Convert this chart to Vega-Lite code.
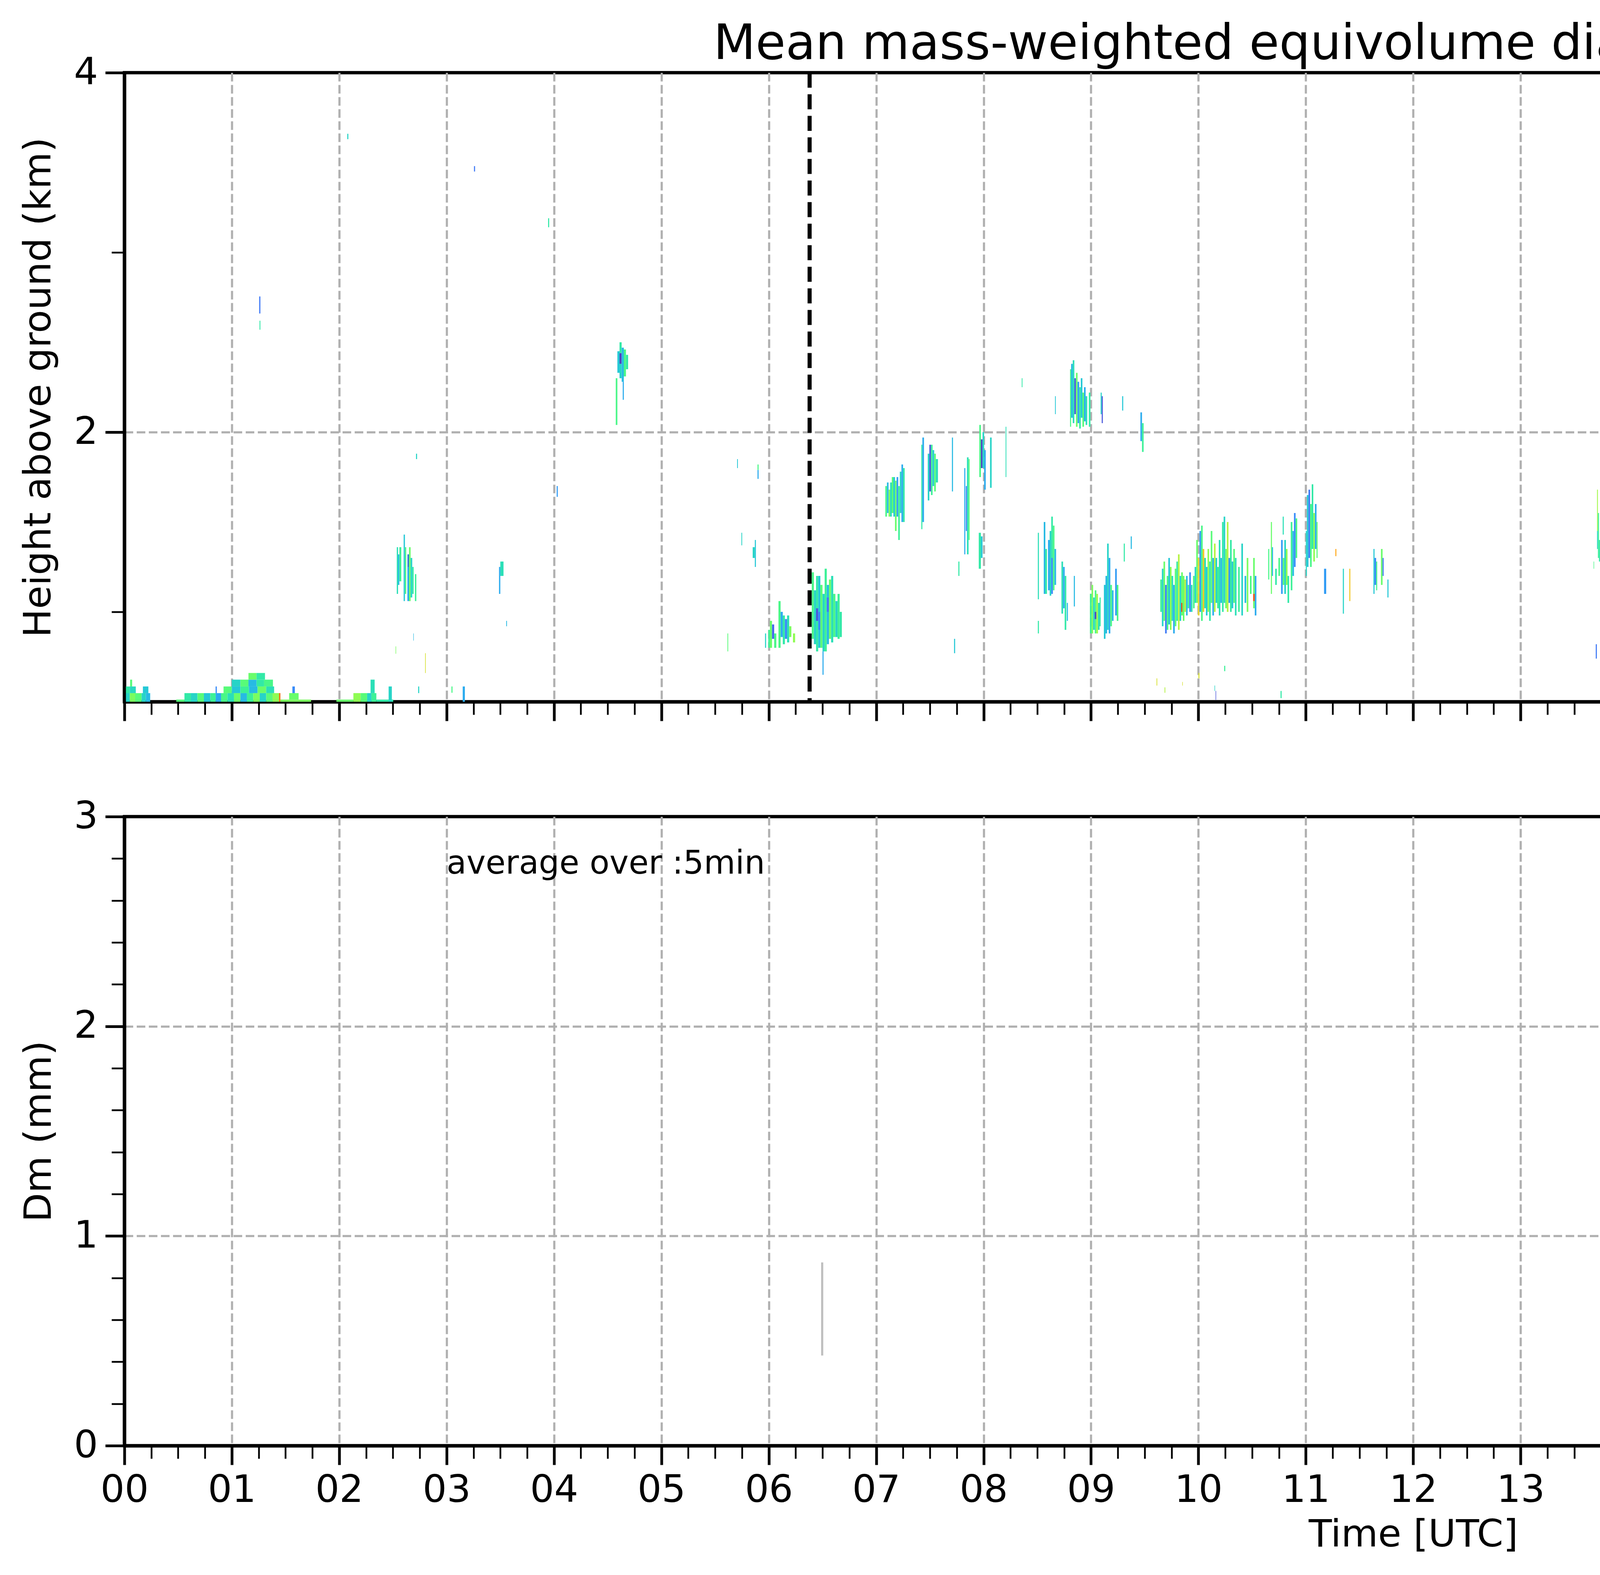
{
  "$schema": "https://vega.github.io/schema/vega-lite/v6.json",
  "autosize": {"type": "none"},
  "padding": {"left": 318.5, "top": 186, "right": 7123.5, "bottom": 3845},
  "background": "white",
  "config": {
    "font": "DejaVu Sans",
    "view": {"stroke": "black", "strokeWidth": 8.5},
    "axis": {
      "gridColor": "#b0b0b0", "gridDash": [22, 9], "gridWidth": 5.5,
      "tickColor": "black", "domain": false, "grid": false, "labelFlush": false, "labelOverlap": false,
      "labelFont": "DejaVu Sans", "labelFontSize": 97, "labelColor": "black",
      "titleFont": "DejaVu Sans", "titleFontSize": 97, "titleFontWeight": "normal", "titleColor": "black",
      "zindex": 1
    }
  },
  "bounds": "flush",
  "spacing": 294,
  "resolve": {"scale": {"color": "independent", "x": "independent", "y": "independent"}, "legend": {"color": "independent"}},
  "vconcat": [
    {
      "width": 6598.5,
      "height": 1610,
      "title": {"text": "Mean mass-weighted equivolume diameter on 20260213", "fontSize": 125, "font": "DejaVu Sans", "fontWeight": "normal", "anchor": "middle", "frame": "group", "offset": 36, "dy": 175, "baseline": "alphabetic", "color": "black"},
      "layer": [
        {
          "data": {"values": [
            {"t":0.014,"t2":0.05,"h":0.5,"h2":0.548,"d":0.6},
            {"t":0.05,"t2":0.10,"h":0.5,"h2":0.548,"d":0.95},
            {"t":0.10,"t2":0.16,"h":0.5,"h2":0.548,"d":0.85},
            {"t":0.16,"t2":0.20,"h":0.5,"h2":0.548,"d":0.6},
            {"t":0.20,"t2":0.24,"h":0.5,"h2":0.548,"d":0.5},
            {"t":0.014,"t2":0.05,"h":0.548,"h2":0.585,"d":0.7},
            {"t":0.05,"t2":0.106,"h":0.548,"h2":0.585,"d":0.62},
            {"t":0.053,"t2":0.072,"h":0.585,"h2":0.623,"d":0.85},
            {"t":0.172,"t2":0.223,"h":0.548,"h2":0.585,"d":0.55},
            {"t":0.483,"t2":0.559,"h":0.5,"h2":0.512,"d":0.85},
            {"t":0.559,"t2":0.62,"h":0.5,"h2":0.548,"d":0.7},
            {"t":0.62,"t2":0.68,"h":0.5,"h2":0.548,"d":0.6},
            {"t":0.68,"t2":0.74,"h":0.5,"h2":0.548,"d":0.85},
            {"t":0.74,"t2":0.80,"h":0.5,"h2":0.548,"d":0.55},
            {"t":0.80,"t2":0.85,"h":0.5,"h2":0.548,"d":0.75},
            {"t":0.85,"t2":0.90,"h":0.5,"h2":0.548,"d":0.45},
            {"t":0.90,"t2":0.96,"h":0.5,"h2":0.548,"d":0.8},
            {"t":0.96,"t2":1.02,"h":0.5,"h2":0.548,"d":0.65},
            {"t":1.02,"t2":1.08,"h":0.5,"h2":0.548,"d":0.9},
            {"t":1.08,"t2":1.14,"h":0.5,"h2":0.548,"d":0.5},
            {"t":1.14,"t2":1.20,"h":0.5,"h2":0.548,"d":0.75},
            {"t":1.20,"t2":1.26,"h":0.5,"h2":0.548,"d":0.95},
            {"t":1.26,"t2":1.32,"h":0.5,"h2":0.548,"d":0.6},
            {"t":1.32,"t2":1.38,"h":0.5,"h2":0.548,"d":0.85},
            {"t":1.38,"t2":1.452,"h":0.5,"h2":0.548,"d":1.0},
            {"t":1.44,"t2":1.452,"h":0.5,"h2":0.548,"d":1.6},
            {"t":1.452,"t2":1.738,"h":0.5,"h2":0.512,"d":0.95},
            {"t":1.534,"t2":1.622,"h":0.512,"h2":0.548,"d":0.9},
            {"t":1.564,"t2":1.587,"h":0.548,"h2":0.585,"d":0.35},
            {"t":0.849,"t2":0.86,"h":0.548,"h2":0.585,"d":0.35},
            {"t":0.923,"t2":1.0,"h":0.548,"h2":0.585,"d":0.85},
            {"t":1.0,"t2":1.08,"h":0.548,"h2":0.585,"d":0.55},
            {"t":1.08,"t2":1.16,"h":0.548,"h2":0.585,"d":0.75},
            {"t":1.16,"t2":1.24,"h":0.548,"h2":0.585,"d":0.5},
            {"t":1.24,"t2":1.32,"h":0.548,"h2":0.585,"d":0.9},
            {"t":1.32,"t2":1.394,"h":0.548,"h2":0.585,"d":0.65},
            {"t":1.0,"t2":1.08,"h":0.585,"h2":0.623,"d":0.6},
            {"t":1.08,"t2":1.155,"h":0.585,"h2":0.623,"d":0.85},
            {"t":1.155,"t2":1.23,"h":0.585,"h2":0.623,"d":0.5},
            {"t":1.23,"t2":1.30,"h":0.585,"h2":0.623,"d":0.7},
            {"t":1.30,"t2":1.383,"h":0.585,"h2":0.623,"d":0.8},
            {"t":1.155,"t2":1.23,"h":0.623,"h2":0.66,"d":0.9},
            {"t":1.23,"t2":1.309,"h":0.623,"h2":0.66,"d":0.7},
            {"t":1.974,"t2":2.132,"h":0.5,"h2":0.512,"d":0.9},
            {"t":2.132,"t2":2.20,"h":0.5,"h2":0.548,"d":1.0},
            {"t":2.20,"t2":2.26,"h":0.5,"h2":0.548,"d":0.85},
            {"t":2.26,"t2":2.30,"h":0.5,"h2":0.548,"d":0.6},
            {"t":2.30,"t2":2.346,"h":0.5,"h2":0.548,"d":0.75},
            {"t":2.346,"t2":2.503,"h":0.5,"h2":0.512,"d":0.7},
            {"t":2.292,"t2":2.33,"h":0.548,"h2":0.623,"d":0.65},
            {"t":2.46,"t2":2.49,"h":0.5,"h2":0.585,"d":0.6},
            {"t":2.735,"t2":2.745,"h":0.548,"h2":0.585,"d":0.6},
            {"t":3.045,"t2":3.055,"h":0.55,"h2":0.585,"d":0.8},
            {"t":3.15,"t2":3.17,"h":0.5,"h2":0.585,"d":0.45},
            {"t":1.255,"t2":1.266,"h":2.66,"h2":2.755,"d":0.3},
            {"t":1.258,"t2":1.266,"h":2.57,"h2":2.62,"d":0.7},
            {"t":2.075,"t2":2.085,"h":3.63,"h2":3.66,"d":0.6},
            {"t":2.536,"t2":2.548,"h":1.10,"h2":1.36,"d":0.65},
            {"t":2.548,"t2":2.56,"h":1.15,"h2":1.32,"d":0.5},
            {"t":2.56,"t2":2.578,"h":1.17,"h2":1.36,"d":0.75},
            {"t":2.60,"t2":2.612,"h":1.06,"h2":1.43,"d":0.55},
            {"t":2.612,"t2":2.624,"h":1.10,"h2":1.36,"d":0.8},
            {"t":2.635,"t2":2.65,"h":1.06,"h2":1.32,"d":0.45},
            {"t":2.64,"t2":2.646,"h":1.25,"h2":1.32,"d":0.15},
            {"t":2.65,"t2":2.665,"h":1.06,"h2":1.36,"d":0.9},
            {"t":2.665,"t2":2.68,"h":1.08,"h2":1.30,"d":0.6},
            {"t":2.68,"t2":2.693,"h":1.10,"h2":1.25,"d":0.7},
            {"t":2.705,"t2":2.718,"h":1.06,"h2":1.21,"d":0.75},
            {"t":2.525,"t2":2.53,"h":0.767,"h2":0.808,"d":0.95},
            {"t":2.80,"t2":2.806,"h":0.66,"h2":0.77,"d":1.2},
            {"t":2.69,"t2":2.694,"h":0.84,"h2":0.88,"d":0.5},
            {"t":3.555,"t2":3.562,"h":0.92,"h2":0.95,"d":0.5},
            {"t":2.715,"t2":2.725,"h":1.85,"h2":1.88,"d":0.6},
            {"t":3.488,"t2":3.50,"h":1.10,"h2":1.25,"d":0.45},
            {"t":3.50,"t2":3.53,"h":1.20,"h2":1.28,"d":0.65},
            {"t":3.255,"t2":3.265,"h":3.45,"h2":3.48,"d":0.3},
            {"t":3.945,"t2":3.955,"h":3.14,"h2":3.19,"d":0.7},
            {"t":4.025,"t2":4.035,"h":1.64,"h2":1.70,"d":0.4},
            {"t":4.575,"t2":4.59,"h":2.04,"h2":2.30,"d":0.8},
            {"t":4.59,"t2":4.61,"h":2.33,"h2":2.45,"d":0.55},
            {"t":4.61,"t2":4.63,"h":2.30,"h2":2.38,"d":0.6},
            {"t":4.61,"t2":4.63,"h":2.38,"h2":2.44,"d":0.15},
            {"t":4.61,"t2":4.63,"h":2.44,"h2":2.50,"d":0.7},
            {"t":4.63,"t2":4.65,"h":2.28,"h2":2.47,"d":0.5},
            {"t":4.65,"t2":4.67,"h":2.31,"h2":2.46,"d":0.8},
            {"t":4.67,"t2":4.69,"h":2.35,"h2":2.43,"d":0.7},
            {"t":4.64,"t2":4.65,"h":2.18,"h2":2.28,"d":0.45},
            {"t":5.705,"t2":5.712,"h":1.80,"h2":1.85,"d":0.55},
            {"t":5.895,"t2":5.905,"h":1.74,"h2":1.79,"d":0.45},
            {"t":5.895,"t2":5.905,"h":1.79,"h2":1.82,"d":0.8},
            {"t":5.745,"t2":5.752,"h":1.37,"h2":1.44,"d":0.6},
            {"t":5.85,"t2":5.87,"h":1.30,"h2":1.36,"d":0.6},
            {"t":5.87,"t2":5.88,"h":1.25,"h2":1.40,"d":0.55},
            {"t":5.615,"t2":5.622,"h":0.78,"h2":0.88,"d":0.85},
            {"t":5.965,"t2":5.975,"h":0.80,"h2":0.88,"d":0.6},
            {"t":5.995,"t2":6.01,"h":0.80,"h2":0.90,"d":0.75},
            {"t":6.01,"t2":6.03,"h":0.80,"h2":0.95,"d":0.9},
            {"t":6.03,"t2":6.05,"h":0.85,"h2":0.93,"d":0.25},
            {"t":6.05,"t2":6.07,"h":0.80,"h2":0.88,"d":0.8},
            {"t":6.09,"t2":6.11,"h":0.80,"h2":1.06,"d":0.8},
            {"t":6.11,"t2":6.13,"h":0.86,"h2":1.00,"d":0.45},
            {"t":6.13,"t2":6.15,"h":0.82,"h2":0.98,"d":0.7},
            {"t":6.15,"t2":6.17,"h":0.85,"h2":0.96,"d":0.35},
            {"t":6.17,"t2":6.19,"h":0.83,"h2":0.98,"d":0.65},
            {"t":6.19,"t2":6.21,"h":0.86,"h2":0.92,"d":0.95},
            {"t":6.225,"t2":6.245,"h":0.83,"h2":0.88,"d":1.0},
            {"t":6.40,"t2":6.42,"h":0.85,"h2":1.22,"d":0.8},
            {"t":6.42,"t2":6.44,"h":0.82,"h2":1.12,"d":0.6},
            {"t":6.44,"t2":6.46,"h":0.78,"h2":1.20,"d":0.7},
            {"t":6.44,"t2":6.46,"h":0.95,"h2":1.02,"d":0.2},
            {"t":6.46,"t2":6.48,"h":0.80,"h2":1.20,"d":0.55},
            {"t":6.46,"t2":6.48,"h":0.90,"h2":1.00,"d":0.35},
            {"t":6.48,"t2":6.50,"h":0.80,"h2":1.15,"d":0.85},
            {"t":6.50,"t2":6.52,"h":0.78,"h2":1.10,"d":0.6},
            {"t":6.50,"t2":6.51,"h":0.65,"h2":0.78,"d":0.45},
            {"t":6.52,"t2":6.54,"h":0.78,"h2":1.24,"d":0.75},
            {"t":6.54,"t2":6.56,"h":0.82,"h2":1.15,"d":0.5},
            {"t":6.54,"t2":6.56,"h":1.00,"h2":1.08,"d":0.3},
            {"t":6.56,"t2":6.58,"h":0.85,"h2":1.18,"d":0.9},
            {"t":6.58,"t2":6.60,"h":0.83,"h2":1.20,"d":0.65},
            {"t":6.60,"t2":6.62,"h":0.86,"h2":1.10,"d":0.8},
            {"t":6.62,"t2":6.64,"h":0.86,"h2":1.06,"d":0.6},
            {"t":6.64,"t2":6.66,"h":0.85,"h2":1.10,"d":0.75},
            {"t":6.66,"t2":6.68,"h":0.86,"h2":1.00,"d":0.7},
            {"t":7.725,"t2":7.735,"h":0.77,"h2":0.85,"d":0.55},
            {"t":7.085,"t2":7.10,"h":1.53,"h2":1.70,"d":0.8},
            {"t":7.10,"t2":7.115,"h":1.55,"h2":1.72,"d":0.5},
            {"t":7.115,"t2":7.13,"h":1.53,"h2":1.68,"d":0.95},
            {"t":7.13,"t2":7.145,"h":1.53,"h2":1.72,"d":0.65},
            {"t":7.145,"t2":7.16,"h":1.55,"h2":1.75,"d":0.85},
            {"t":7.16,"t2":7.175,"h":1.53,"h2":1.75,"d":0.55},
            {"t":7.175,"t2":7.19,"h":1.45,"h2":1.73,"d":0.9},
            {"t":7.19,"t2":7.205,"h":1.53,"h2":1.75,"d":0.4},
            {"t":7.205,"t2":7.22,"h":1.40,"h2":1.70,"d":0.75},
            {"t":7.22,"t2":7.235,"h":1.55,"h2":1.78,"d":0.6},
            {"t":7.235,"t2":7.25,"h":1.50,"h2":1.82,"d":0.45},
            {"t":7.25,"t2":7.265,"h":1.50,"h2":1.80,"d":0.7},
            {"t":7.42,"t2":7.43,"h":1.46,"h2":1.93,"d":0.7},
            {"t":7.43,"t2":7.445,"h":1.50,"h2":1.97,"d":0.45},
            {"t":7.48,"t2":7.495,"h":1.62,"h2":1.88,"d":0.6},
            {"t":7.495,"t2":7.51,"h":1.67,"h2":1.93,"d":0.2},
            {"t":7.51,"t2":7.525,"h":1.65,"h2":1.93,"d":0.75},
            {"t":7.525,"t2":7.54,"h":1.70,"h2":1.90,"d":0.55},
            {"t":7.54,"t2":7.555,"h":1.67,"h2":1.88,"d":0.85},
            {"t":7.555,"t2":7.575,"h":1.72,"h2":1.85,"d":0.65},
            {"t":7.705,"t2":7.715,"h":1.67,"h2":1.97,"d":0.5},
            {"t":7.82,"t2":7.83,"h":1.32,"h2":1.80,"d":0.45},
            {"t":7.835,"t2":7.845,"h":1.45,"h2":1.70,"d":0.3},
            {"t":7.845,"t2":7.86,"h":1.32,"h2":1.86,"d":0.65},
            {"t":7.86,"t2":7.87,"h":1.40,"h2":1.85,"d":0.85},
            {"t":7.765,"t2":7.775,"h":1.20,"h2":1.28,"d":0.7},
            {"t":7.96,"t2":7.975,"h":1.75,"h2":2.04,"d":0.8},
            {"t":7.975,"t2":7.99,"h":1.80,"h2":1.96,"d":0.15},
            {"t":7.99,"t2":8.005,"h":1.80,"h2":2.0,"d":0.6},
            {"t":8.005,"t2":8.02,"h":1.68,"h2":1.90,"d":0.45},
            {"t":7.955,"t2":7.975,"h":1.24,"h2":1.44,"d":0.7},
            {"t":7.975,"t2":7.99,"h":1.30,"h2":1.42,"d":0.55},
            {"t":8.06,"t2":8.075,"h":1.69,"h2":1.97,"d":0.6},
            {"t":8.205,"t2":8.212,"h":1.75,"h2":2.03,"d":0.65},
            {"t":8.505,"t2":8.515,"h":1.07,"h2":1.44,"d":0.65},
            {"t":8.505,"t2":8.515,"h":0.88,"h2":0.95,"d":0.7},
            {"t":8.56,"t2":8.575,"h":1.10,"h2":1.50,"d":0.5},
            {"t":8.575,"t2":8.59,"h":1.10,"h2":1.35,"d":0.7},
            {"t":8.60,"t2":8.615,"h":1.12,"h2":1.40,"d":0.45},
            {"t":8.615,"t2":8.63,"h":1.09,"h2":1.45,"d":0.6},
            {"t":8.63,"t2":8.645,"h":1.30,"h2":1.53,"d":0.7},
            {"t":8.63,"t2":8.645,"h":1.10,"h2":1.30,"d":0.35},
            {"t":8.645,"t2":8.66,"h":1.12,"h2":1.48,"d":0.8},
            {"t":8.66,"t2":8.675,"h":1.15,"h2":1.35,"d":0.5},
            {"t":8.725,"t2":8.74,"h":0.99,"h2":1.28,"d":0.65},
            {"t":8.74,"t2":8.755,"h":1.02,"h2":1.25,"d":0.45},
            {"t":8.755,"t2":8.77,"h":0.90,"h2":1.20,"d":0.7},
            {"t":8.775,"t2":8.785,"h":0.95,"h2":1.05,"d":0.5},
            {"t":8.84,"t2":8.85,"h":1.03,"h2":1.20,"d":0.5},
            {"t":8.805,"t2":8.815,"h":2.03,"h2":2.35,"d":0.8},
            {"t":8.815,"t2":8.83,"h":2.08,"h2":2.38,"d":0.5},
            {"t":8.83,"t2":8.845,"h":2.05,"h2":2.40,"d":0.65},
            {"t":8.845,"t2":8.86,"h":2.10,"h2":2.30,"d":0.2},
            {"t":8.86,"t2":8.875,"h":2.03,"h2":2.33,"d":0.9},
            {"t":8.875,"t2":8.89,"h":2.05,"h2":2.28,"d":0.4},
            {"t":8.89,"t2":8.905,"h":2.02,"h2":2.25,"d":0.7},
            {"t":8.905,"t2":8.92,"h":2.08,"h2":2.30,"d":0.55},
            {"t":8.92,"t2":8.935,"h":2.03,"h2":2.22,"d":0.85},
            {"t":8.935,"t2":8.95,"h":2.06,"h2":2.25,"d":0.45},
            {"t":8.95,"t2":8.965,"h":2.04,"h2":2.20,"d":0.65},
            {"t":8.98,"t2":8.995,"h":2.03,"h2":2.22,"d":0.7},
            {"t":9.09,"t2":9.10,"h":2.10,"h2":2.22,"d":0.6},
            {"t":9.10,"t2":9.11,"h":2.05,"h2":2.20,"d":0.2},
            {"t":9.29,"t2":9.30,"h":2.12,"h2":2.20,"d":0.55},
            {"t":9.46,"t2":9.475,"h":1.95,"h2":2.11,"d":0.45},
            {"t":9.475,"t2":9.49,"h":1.89,"h2":2.05,"d":0.75},
            {"t":8.665,"t2":8.672,"h":2.10,"h2":2.20,"d":0.55},
            {"t":8.355,"t2":8.362,"h":2.25,"h2":2.30,"d":0.7},
            {"t":8.99,"t2":9.005,"h":0.88,"h2":1.10,"d":0.75},
            {"t":9.005,"t2":9.02,"h":0.88,"h2":1.15,"d":0.95},
            {"t":9.02,"t2":9.035,"h":0.90,"h2":1.08,"d":0.6},
            {"t":9.035,"t2":9.05,"h":0.88,"h2":1.12,"d":0.8},
            {"t":9.035,"t2":9.05,"h":0.96,"h2":1.00,"d":0.15},
            {"t":9.05,"t2":9.065,"h":0.88,"h2":1.10,"d":1.05},
            {"t":9.065,"t2":9.08,"h":0.90,"h2":1.05,"d":0.65},
            {"t":9.08,"t2":9.09,"h":0.92,"h2":1.08,"d":0.7},
            {"t":9.12,"t2":9.135,"h":0.85,"h2":1.15,"d":0.55},
            {"t":9.135,"t2":9.15,"h":0.88,"h2":1.20,"d":0.5},
            {"t":9.15,"t2":9.165,"h":0.90,"h2":1.38,"d":0.6},
            {"t":9.165,"t2":9.18,"h":0.88,"h2":1.30,"d":0.45},
            {"t":9.18,"t2":9.195,"h":0.92,"h2":1.15,"d":0.8},
            {"t":9.195,"t2":9.21,"h":0.95,"h2":1.12,"d":0.5},
            {"t":9.225,"t2":9.24,"h":0.98,"h2":1.24,"d":0.4},
            {"t":9.24,"t2":9.255,"h":0.95,"h2":1.15,"d":0.8},
            {"t":9.37,"t2":9.38,"h":1.35,"h2":1.42,"d":0.5},
            {"t":9.305,"t2":9.315,"h":1.28,"h2":1.38,"d":0.7},
            {"t":9.645,"t2":9.66,"h":1.00,"h2":1.18,"d":0.75},
            {"t":9.66,"t2":9.675,"h":0.92,"h2":1.24,"d":0.6},
            {"t":9.675,"t2":9.69,"h":0.95,"h2":1.28,"d":0.9},
            {"t":9.69,"t2":9.705,"h":0.88,"h2":1.15,"d":0.3},
            {"t":9.705,"t2":9.72,"h":0.90,"h2":1.20,"d":0.8},
            {"t":9.72,"t2":9.735,"h":0.93,"h2":1.30,"d":0.55},
            {"t":9.735,"t2":9.75,"h":0.90,"h2":1.25,"d":1.0},
            {"t":9.75,"t2":9.765,"h":0.95,"h2":1.20,"d":0.65},
            {"t":9.765,"t2":9.78,"h":0.88,"h2":1.15,"d":0.45},
            {"t":9.78,"t2":9.795,"h":0.92,"h2":1.24,"d":0.85},
            {"t":9.795,"t2":9.81,"h":0.95,"h2":1.28,"d":0.7},
            {"t":9.81,"t2":9.825,"h":0.90,"h2":1.32,"d":1.1},
            {"t":9.825,"t2":9.84,"h":0.95,"h2":1.20,"d":0.6},
            {"t":9.84,"t2":9.855,"h":0.98,"h2":1.22,"d":0.9},
            {"t":9.84,"t2":9.85,"h":1.00,"h2":1.05,"d":1.7},
            {"t":9.855,"t2":9.87,"h":0.95,"h2":1.20,"d":0.9},
            {"t":9.87,"t2":9.885,"h":1.00,"h2":1.18,"d":1.1},
            {"t":9.885,"t2":9.90,"h":0.98,"h2":1.20,"d":0.5},
            {"t":9.90,"t2":9.915,"h":1.02,"h2":1.15,"d":0.75},
            {"t":9.915,"t2":9.93,"h":1.00,"h2":1.22,"d":0.35},
            {"t":9.93,"t2":9.945,"h":1.00,"h2":1.15,"d":0.65},
            {"t":9.95,"t2":9.965,"h":1.02,"h2":1.20,"d":0.8},
            {"t":9.965,"t2":9.98,"h":1.05,"h2":1.25,"d":0.6},
            {"t":9.98,"t2":9.995,"h":1.05,"h2":1.40,"d":0.9},
            {"t":9.995,"t2":10.01,"h":0.98,"h2":1.30,"d":1.25},
            {"t":10.01,"t2":10.025,"h":1.00,"h2":1.45,"d":0.4},
            {"t":10.025,"t2":10.04,"h":0.95,"h2":1.48,"d":0.8},
            {"t":10.04,"t2":10.055,"h":1.00,"h2":1.35,"d":1.3},
            {"t":10.055,"t2":10.07,"h":1.02,"h2":1.30,"d":0.65},
            {"t":10.07,"t2":10.085,"h":0.98,"h2":1.25,"d":0.55},
            {"t":10.085,"t2":10.10,"h":1.00,"h2":1.35,"d":1.0},
            {"t":10.10,"t2":10.115,"h":0.95,"h2":1.28,"d":0.7},
            {"t":10.115,"t2":10.13,"h":1.05,"h2":1.45,"d":0.85},
            {"t":10.13,"t2":10.145,"h":0.98,"h2":1.30,"d":0.45},
            {"t":10.145,"t2":10.16,"h":1.00,"h2":1.38,"d":1.1},
            {"t":10.16,"t2":10.175,"h":1.05,"h2":1.30,"d":0.6},
            {"t":10.175,"t2":10.19,"h":1.02,"h2":1.25,"d":0.75},
            {"t":10.19,"t2":10.205,"h":0.98,"h2":1.40,"d":0.65},
            {"t":10.205,"t2":10.22,"h":1.05,"h2":1.30,"d":0.5},
            {"t":10.22,"t2":10.235,"h":1.00,"h2":1.50,"d":0.7},
            {"t":10.235,"t2":10.25,"h":1.05,"h2":1.53,"d":0.6},
            {"t":10.25,"t2":10.265,"h":1.02,"h2":1.35,"d":0.9},
            {"t":10.265,"t2":10.28,"h":1.00,"h2":1.50,"d":1.1},
            {"t":10.28,"t2":10.295,"h":1.05,"h2":1.30,"d":0.4},
            {"t":10.295,"t2":10.31,"h":1.00,"h2":1.40,"d":0.7},
            {"t":10.31,"t2":10.325,"h":1.02,"h2":1.28,"d":0.55},
            {"t":10.325,"t2":10.34,"h":1.05,"h2":1.35,"d":0.85},
            {"t":10.34,"t2":10.355,"h":0.98,"h2":1.30,"d":0.65},
            {"t":10.37,"t2":10.385,"h":1.00,"h2":1.25,"d":0.75},
            {"t":10.40,"t2":10.415,"h":0.98,"h2":1.38,"d":0.6},
            {"t":10.43,"t2":10.445,"h":1.05,"h2":1.20,"d":0.5},
            {"t":10.45,"t2":10.465,"h":1.00,"h2":1.30,"d":0.95},
            {"t":10.48,"t2":10.495,"h":1.10,"h2":1.20,"d":0.8},
            {"t":10.51,"t2":10.525,"h":1.02,"h2":1.30,"d":0.9},
            {"t":10.51,"t2":10.525,"h":1.06,"h2":1.10,"d":1.65},
            {"t":10.525,"t2":10.54,"h":0.98,"h2":1.20,"d":0.45},
            {"t":9.685,"t2":9.692,"h":0.55,"h2":0.58,"d":1.1},
            {"t":9.61,"t2":9.617,"h":0.59,"h2":0.63,"d":1.2},
            {"t":9.85,"t2":9.855,"h":0.59,"h2":0.61,"d":1.2},
            {"t":10.0,"t2":10.01,"h":0.63,"h2":0.66,"d":1.2},
            {"t":10.24,"t2":10.25,"h":0.67,"h2":0.70,"d":0.75},
            {"t":10.15,"t2":10.155,"h":0.56,"h2":0.59,"d":0.6},
            {"t":10.765,"t2":10.775,"h":0.52,"h2":0.56,"d":0.7},
            {"t":10.16,"t2":10.165,"h":0.51,"h2":0.56,"d":0.2},
            {"t":10.65,"t2":10.66,"h":1.18,"h2":1.35,"d":0.8},
            {"t":10.675,"t2":10.685,"h":1.10,"h2":1.50,"d":0.9},
            {"t":10.685,"t2":10.695,"h":1.20,"h2":1.36,"d":0.5},
            {"t":10.715,"t2":10.73,"h":1.15,"h2":1.24,"d":0.7},
            {"t":10.745,"t2":10.76,"h":1.20,"h2":1.30,"d":0.8},
            {"t":10.77,"t2":10.785,"h":1.10,"h2":1.40,"d":0.4},
            {"t":10.785,"t2":10.80,"h":1.15,"h2":1.30,"d":0.85},
            {"t":10.785,"t2":10.795,"h":1.43,"h2":1.53,"d":0.65},
            {"t":10.80,"t2":10.815,"h":1.10,"h2":1.40,"d":0.6},
            {"t":10.815,"t2":10.83,"h":1.15,"h2":1.35,"d":1.0},
            {"t":10.83,"t2":10.845,"h":1.05,"h2":1.20,"d":0.7},
            {"t":10.86,"t2":10.875,"h":1.12,"h2":1.50,"d":0.75},
            {"t":10.875,"t2":10.89,"h":1.20,"h2":1.45,"d":0.5},
            {"t":10.89,"t2":10.905,"h":1.25,"h2":1.55,"d":0.35},
            {"t":10.905,"t2":10.92,"h":1.30,"h2":1.52,"d":0.8},
            {"t":11.00,"t2":11.01,"h":1.20,"h2":1.45,"d":0.6},
            {"t":11.01,"t2":11.025,"h":1.25,"h2":1.65,"d":0.55},
            {"t":11.025,"t2":11.04,"h":1.30,"h2":1.68,"d":0.3},
            {"t":11.04,"t2":11.055,"h":1.25,"h2":1.60,"d":0.8},
            {"t":11.055,"t2":11.07,"h":1.35,"h2":1.71,"d":0.7},
            {"t":11.07,"t2":11.085,"h":1.28,"h2":1.55,"d":1.0},
            {"t":11.085,"t2":11.10,"h":1.35,"h2":1.60,"d":0.45},
            {"t":11.10,"t2":11.11,"h":1.30,"h2":1.50,"d":0.85},
            {"t":11.17,"t2":11.19,"h":1.10,"h2":1.24,"d":0.4},
            {"t":11.345,"t2":11.355,"h":0.99,"h2":1.24,"d":0.6},
            {"t":11.405,"t2":11.415,"h":1.06,"h2":1.24,"d":1.3},
            {"t":11.275,"t2":11.285,"h":1.31,"h2":1.35,"d":1.4},
            {"t":11.63,"t2":11.64,"h":1.10,"h2":1.35,"d":0.55},
            {"t":11.64,"t2":11.655,"h":1.15,"h2":1.30,"d":0.35},
            {"t":11.655,"t2":11.665,"h":1.12,"h2":1.28,"d":0.8},
            {"t":11.70,"t2":11.715,"h":1.15,"h2":1.35,"d":0.9},
            {"t":11.715,"t2":11.725,"h":1.20,"h2":1.30,"d":0.3},
            {"t":11.76,"t2":11.77,"h":1.08,"h2":1.18,"d":0.55},
            {"t":13.712,"t2":13.72,"h":1.45,"h2":1.68,"d":1.05},
            {"t":13.712,"t2":13.72,"h":1.35,"h2":1.45,"d":0.6},
            {"t":13.72,"t2":13.73,"h":1.30,"h2":1.55,"d":0.75},
            {"t":13.73,"t2":13.74,"h":1.28,"h2":1.40,"d":0.7},
            {"t":13.775,"t2":13.785,"h":1.40,"h2":1.50,"d":0.75},
            {"t":13.80,"t2":13.81,"h":1.32,"h2":1.54,"d":0.85},
            {"t":13.81,"t2":13.82,"h":1.35,"h2":1.48,"d":0.5},
            {"t":13.68,"t2":13.685,"h":1.24,"h2":1.28,"d":0.8},
            {"t":13.70,"t2":13.71,"h":0.74,"h2":0.82,"d":0.3},
            {"t":15.045,"t2":15.055,"h":0.51,"h2":0.67,"d":0.55},
            {"t":19.84,"t2":19.85,"h":2.87,"h2":3.01,"d":0.6},
            {"t":19.85,"t2":19.865,"h":2.90,"h2":3.05,"d":0.65},
            {"t":19.865,"t2":19.875,"h":2.90,"h2":2.98,"d":0.45},
            {"t":19.875,"t2":19.89,"h":2.93,"h2":2.98,"d":0.55},
            {"t":19.89,"t2":19.90,"h":2.93,"h2":3.01,"d":0.62},
            {"t":20.18,"t2":20.19,"h":2.87,"h2":2.94,"d":0.45},
            {"t":20.19,"t2":20.20,"h":2.87,"h2":2.98,"d":0.7},
            {"t":20.195,"t2":20.20,"h":2.87,"h2":2.94,"d":0.2},
            {"t":20.34,"t2":20.35,"h":2.83,"h2":3.12,"d":0.6},
            {"t":20.35,"t2":20.36,"h":2.87,"h2":3.16,"d":0.75},
            {"t":20.36,"t2":20.37,"h":2.87,"h2":3.12,"d":0.55},
            {"t":20.37,"t2":20.38,"h":2.83,"h2":3.16,"d":0.4},
            {"t":20.38,"t2":20.39,"h":2.87,"h2":3.19,"d":0.6},
            {"t":20.53,"t2":20.54,"h":2.87,"h2":3.19,"d":0.65},
            {"t":20.53,"t2":20.54,"h":2.79,"h2":2.87,"d":0.3},
            {"t":20.54,"t2":20.55,"h":2.83,"h2":3.19,"d":0.5},
            {"t":20.555,"t2":20.565,"h":2.83,"h2":3.16,"d":0.7},
            {"t":20.57,"t2":20.58,"h":2.87,"h2":3.19,"d":0.6},
            {"t":20.58,"t2":20.59,"h":2.83,"h2":3.19,"d":0.65},
            {"t":20.68,"t2":20.69,"h":2.83,"h2":3.30,"d":0.7},
            {"t":20.68,"t2":20.69,"h":2.94,"h2":2.98,"d":0.2},
            {"t":20.68,"t2":20.69,"h":3.19,"h2":3.23,"d":0.2},
            {"t":20.69,"t2":20.70,"h":2.72,"h2":3.335,"d":0.58},
            {"t":21.236,"t2":21.24,"h":2.83,"h2":3.335,"d":0.65}
          ]},
          "mark": {"type": "rect", "strokeWidth": 0},
          "encoding": {
            "x": {"field": "t", "type": "quantitative", "scale": {"domain": [0, 24], "nice": false, "zero": false},
              "axis": {"orient": "bottom", "values": [0,1,2,3,4,5,6,7,8,9,10,11,12,13,14,15,16,17,18,19,20,21,22,23], "labels": false, "grid": true,
                "gridOpacity": {"condition": {"test": "datum.value == 0", "value": 0}, "value": 1},
                "tickSize": 49, "tickWidth": 7, "domain": true, "domainColor": "black", "domainWidth": 8.5, "title": null}},
            "x2": {"field": "t2"},
            "y": {"field": "h", "type": "quantitative", "scale": {"domain": [0.5, 4], "nice": false, "zero": false},
              "axis": {"orient": "left", "values": [2, 4], "format": "d", "grid": true,
                "gridOpacity": {"condition": {"test": "datum.value == 4", "value": 0}, "value": 1},
                "tickSize": 49, "tickWidth": 7, "labelPadding": 19, "domain": true, "domainColor": "black", "domainWidth": 8.5,
                "title": "Height above ground (km)", "titleX": -219, "titleY": 805, "titleAngle": 270, "titleAlign": "center", "titleBaseline": "middle"}},
            "y2": {"field": "h2"},
            "color": {"field": "d", "type": "quantitative", "scale": {"scheme": "turbo", "domain": [0, 2]},
              "legend": {"title": "Dm (mm)", "orient": "right", "direction": "vertical", "gradientLength": 1610, "gradientThickness": 114,
                "gradientStrokeColor": "black", "gradientStrokeWidth": 4.4, "values": [0, 0.4, 0.8, 1.2, 1.6, 2.0], "format": ".1f",
                "labelFont": "DejaVu Sans", "labelFontSize": 87, "labelColor": "black", "labelOffset": 43, "labelOverlap": false,
                "titleOrient": "right", "titleAngle": 270, "titleBaseline": "middle", "titleLimit": 3000, "titleFont": "DejaVu Sans", "titleFontSize": 83, "titleFontWeight": "normal", "titleColor": "black", "titlePadding": 60, "titleAnchor": "middle",
                "offset": 71, "padding": 0,
                "encode": {
                  "labels": {"update": {"baseline": {"value": "middle"}}},
                  "title": {"update": {"angle": {"value": 270}}}
                }}}
          }
        },
        {
          "data": {"values": [{"t": 23.885, "t2": 23.985, "h": 0.5, "h2": 4}]},
          "mark": {"type": "rect", "color": "#d9d9d9", "strokeWidth": 0},
          "encoding": {
            "x": {"field": "t", "type": "quantitative",
              "axis": {"orient": "bottom", "values": [0,0.25,0.5,0.75,1,1.25,1.5,1.75,2,2.25,2.5,2.75,3,3.25,3.5,3.75,4,4.25,4.5,4.75,5,5.25,5.5,5.75,6,6.25,6.5,6.75,7,7.25,7.5,7.75,8,8.25,8.5,8.75,9,9.25,9.5,9.75,10,10.25,10.5,10.75,11,11.25,11.5,11.75,12,12.25,12.5,12.75,13,13.25,13.5,13.75,14,14.25,14.5,14.75,15,15.25,15.5,15.75,16,16.25,16.5,16.75,17,17.25,17.5,17.75,18,18.25,18.5,18.75,19,19.25,19.5,19.75,20,20.25,20.5,20.75,21,21.25,21.5,21.75,22,22.25,22.5,22.75,23,23.25,23.5,23.75,24], "labels": false, "grid": false, "tickSize": 33, "tickWidth": 4.5, "domain": false, "title": null}},
            "x2": {"field": "t2"},
            "y": {"field": "h", "type": "quantitative",
              "axis": {"orient": "left", "values": [1, 3], "labels": false, "grid": false, "tickSize": 33, "tickWidth": 4.5, "domain": false, "title": null}},
            "y2": {"field": "h2"}
          }
        },
        {
          "data": {"values": [{"t": 6.38}, {"t": 16.52}]},
          "mark": {"type": "rule", "color": "black", "strokeWidth": 10.4, "strokeDash": [38.5, 16.7]},
          "encoding": {"x": {"field": "t", "type": "quantitative", "axis": null}}
        }
      ],
      "resolve": {"axis": {"x": "independent", "y": "independent"}}
    },
    {
      "width": 6598.5,
      "height": 1610,
      "layer": [
        {
          "data": {"values": [{"t": 6.487, "t2": 6.507, "lo": 0.43, "hi": 0.874, "series": "Min-Max Range radar Dm"}]},
          "mark": {"type": "rect", "strokeWidth": 0},
          "encoding": {
            "x": {"field": "t", "type": "quantitative", "scale": {"domain": [0, 24], "nice": false, "zero": false},
              "axis": {"orient": "bottom", "values": [0,1,2,3,4,5,6,7,8,9,10,11,12,13,14,15,16,17,18,19,20,21,22,23],
                "labelExpr": "(datum.value < 10 ? '0' : '') + datum.value", "labelPadding": 17, "grid": true,
                "gridOpacity": {"condition": {"test": "datum.value == 0", "value": 0}, "value": 1},
                "tickSize": 49, "tickWidth": 7,
                "domain": true, "domainColor": "black", "domainWidth": 8.5,
                "title": "Time [UTC]", "titleY": 257, "titleBaseline": "alphabetic"}},
            "x2": {"field": "t2"},
            "y": {"field": "lo", "type": "quantitative", "scale": {"domain": [0, 3], "nice": false, "zero": false},
              "axis": {"orient": "left", "values": [0, 1, 2, 3], "format": "d", "grid": true,
                "gridOpacity": {"condition": {"test": "datum.value == 0 || datum.value == 3", "value": 0}, "value": 1},
                "tickSize": 49, "tickWidth": 7, "labelPadding": 19,
                "domain": true, "domainColor": "black", "domainWidth": 8.5,
                "title": "Dm (mm)", "titleX": -218, "titleY": 805, "titleAngle": 270, "titleAlign": "center", "titleBaseline": "middle"}},
            "y2": {"field": "hi"},
            "color": {"field": "series", "type": "nominal",
              "scale": {"domain": ["Min-Max Range radar Dm", "radar(xmacs-wmacs)_Dm_median", "Min-Max Range parsivel Dm", "parsivel_Dm_median"],
                "range": ["#bfbfbf", "#000000", "#ebb3eb", "#bf00bf"]},
              "legend": {"title": null, "orient": "top-right", "offset": 36, "padding": 28, "direction": "vertical", "columns": 1,
                "fillColor": "white", "strokeColor": "#d6d6d6", "cornerRadius": 14,
                "labelFont": "DejaVu Sans", "labelFontSize": 70.5, "labelColor": "black", "labelOffset": 88.5, "labelLimit": 3000,
                "symbolSize": 20449, "symbolOffset": 37.5, "rowPadding": 35,
                "encode": {
                  "legend": {"update": {"strokeWidth": {"value": 5.5}}},
                  "symbols": {"update": {
                  "shape": {"signal": "(datum.value == 'Min-Max Range radar Dm' || datum.value == 'Min-Max Range parsivel Dm') ? 'M-1,-0.364H1V0.364H-1Z' : 'M-1,0H1'"},
                  "fill": {"signal": "datum.value == 'Min-Max Range radar Dm' ? '#bfbfbf' : datum.value == 'Min-Max Range parsivel Dm' ? '#ebb3eb' : 'transparent'"},
                  "stroke": {"signal": "datum.value == 'Min-Max Range radar Dm' ? '#a0a0a0' : datum.value == 'Min-Max Range parsivel Dm' ? '#de7dde' : datum.value == 'parsivel_Dm_median' ? '#bf00bf' : '#000000'"},
                  "strokeWidth": {"signal": "(datum.value == 'Min-Max Range radar Dm' || datum.value == 'Min-Max Range parsivel Dm') ? 4 : 10"},
                  "opacity": {"value": 1}
                }}}}}
          }
        },
        {
          "data": {"values": [{"t": 3.0, "v": 2.728, "label": "average over :5min"}]},
          "mark": {"type": "text", "align": "left", "baseline": "alphabetic", "fontSize": 83, "font": "DejaVu Sans", "color": "black"},
          "encoding": {
            "x": {"field": "t", "type": "quantitative",
              "axis": {"orient": "bottom", "values": [0,0.25,0.5,0.75,1,1.25,1.5,1.75,2,2.25,2.5,2.75,3,3.25,3.5,3.75,4,4.25,4.5,4.75,5,5.25,5.5,5.75,6,6.25,6.5,6.75,7,7.25,7.5,7.75,8,8.25,8.5,8.75,9,9.25,9.5,9.75,10,10.25,10.5,10.75,11,11.25,11.5,11.75,12,12.25,12.5,12.75,13,13.25,13.5,13.75,14,14.25,14.5,14.75,15,15.25,15.5,15.75,16,16.25,16.5,16.75,17,17.25,17.5,17.75,18,18.25,18.5,18.75,19,19.25,19.5,19.75,20,20.25,20.5,20.75,21,21.25,21.5,21.75,22,22.25,22.5,22.75,23,23.25,23.5,23.75,24], "labels": false, "grid": false, "tickSize": 33, "tickWidth": 4.5, "domain": false, "title": null}},
            "y": {"field": "v", "type": "quantitative",
              "axis": {"orient": "left", "values": [0.2,0.4,0.6,0.8,1.2,1.4,1.6,1.8,2.2,2.4,2.6,2.8], "labels": false, "grid": false, "tickSize": 33, "tickWidth": 4.5, "domain": false, "title": null}},
            "text": {"field": "label"}
          }
        }
      ],
      "resolve": {"axis": {"x": "independent", "y": "independent"}}
    }
  ]
}
